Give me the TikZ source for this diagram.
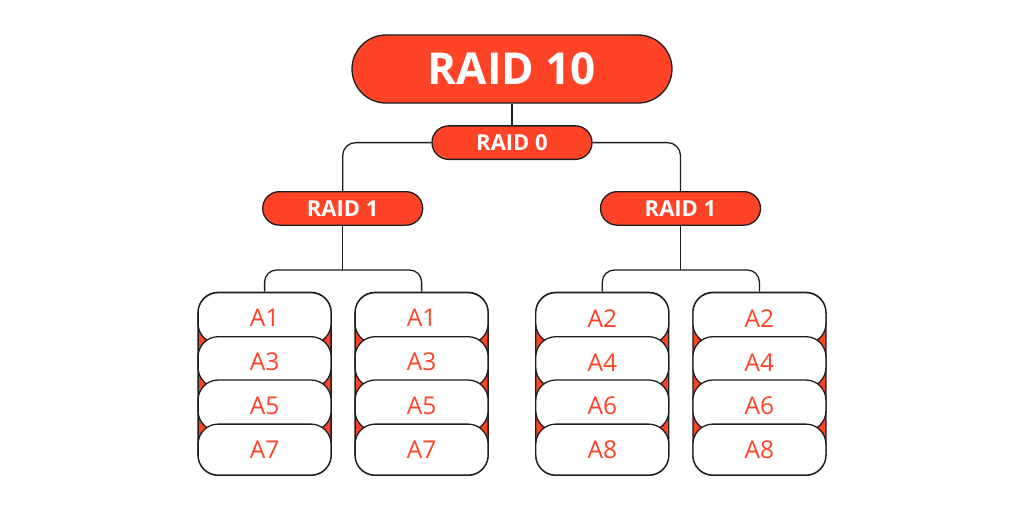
\documentclass[tikz,border=0pt]{standalone}
\usepackage{fontspec}
\setmainfont{Open Sans}
\usetikzlibrary{backgrounds}
\definecolor{raidred}{HTML}{FF4326}
\definecolor{ink}{HTML}{1E1E1E}
\begin{document}
\begin{tikzpicture}[x=1pt,y=-1pt,
  line width=1.3pt,
  pill/.style={draw=ink,fill=raidred,text=white,font=\bfseries\fontsize{22}{24}\selectfont,
    minimum width=160pt,minimum height=33.5pt,rounded corners=16.7pt,inner sep=0pt},
  toppill/.style={pill,minimum width=320pt,minimum height=68pt,rounded corners=34pt,
    font=\bfseries\fontsize{44}{48}\selectfont},
  stackbox/.style={draw=ink,fill=raidred,minimum width=133pt,minimum height=183pt,rounded corners=20pt,inner sep=0pt},
  cell/.style={draw=ink,fill=white,text=raidred,minimum width=133pt,minimum height=51pt,
    rounded corners=20pt,inner sep=0pt,font=\fontsize{24.5}{26}\selectfont},
  link/.style={draw=ink,line width=1.3pt}]
\useasboundingbox (0,0) rectangle (1024,512);
\node[toppill] (r10) at (512,69) {RAID 10};
\node[pill] (r0) at (512,142.6) {RAID 0};
\node[pill] (r1l) at (342.7,208.4) {RAID 1};
\node[pill] (r1r) at (680.5,208.4) {RAID 1};
% stacks
\foreach \n/\cx/\a/\b/\c/\d in {s1/264.6/A1/A3/A5/A7, s2/421.6/A1/A3/A5/A7, s3/602.3/A2/A4/A6/A8, s4/759.4/A2/A4/A6/A8}{
  \node[stackbox] (\n) at (\cx,383.8) {};
  \node[cell] (\n c1) at (\cx,318.2) {\a};
  \node[cell] (\n c2) at (\cx,362.2) {\b};
  \node[cell] (\n c3) at (\cx,405.5) {\c};
  \node[cell] (\n c4) at (\cx,449.6) {\d};
}
\coordinate (jl) at (342.7,270);
\coordinate (jr) at (680.5,270);
\begin{scope}[on background layer]
\fill[white] (0,0) rectangle (1024,512);
\draw[link] (r10.south) -- (r0.north);
\draw[link,rounded corners=13pt] (r0.west) -| (r1l.north);
\draw[link,rounded corners=13pt] (r0.east) -| (r1r.north);
\draw[link] (r1l.south) -- (jl);
\draw[link] (r1r.south) -- (jr);
\draw[link,rounded corners=12pt] (s1.north) |- (jl) -| (s2.north);
\draw[link,rounded corners=12pt] (s3.north) |- (jr) -| (s4.north);
\end{scope}
\end{tikzpicture}
\end{document}
